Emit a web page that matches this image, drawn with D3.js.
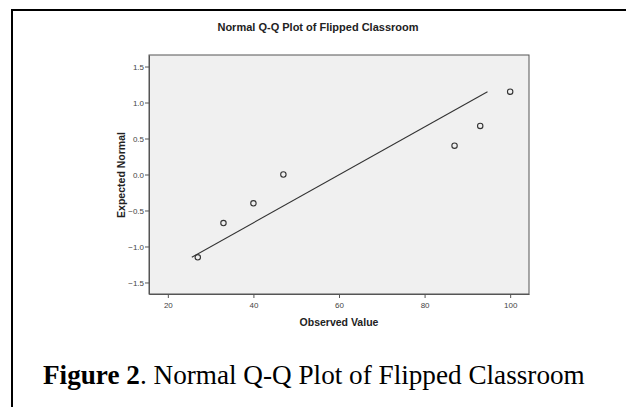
<!DOCTYPE html>
<html>
<head>
<meta charset="utf-8">
<script src="https://cdn.jsdelivr.net/npm/d3@7"></script>
<style>
  body { margin: 0; background: #fff; }
  svg { display: block; }
</style>
</head>
<body>
<div id="chart"></div>
<script>
// data
var observed = [27, 33, 40, 47, 87, 93, 100];
var expected = [-1.15, -0.675, -0.40, 0.0, 0.40, 0.675, 1.15];
var lineX = [25.6, 94.7];
var lineY = [-1.15, 1.15];
var xTicks = [20, 40, 60, 80, 100];
var yTicks = [-1.5, -1.0, -0.5, 0.0, 0.5, 1.0, 1.5];

var width = 626, height = 407;
var plot = { left: 149, top: 55, right: 529, bottom: 294 };

var svg = d3.select("#chart").append("svg")
  .attr("width", width)
  .attr("height", height);

// frame lines (top + left only)
svg.append("line")
  .attr("x1", 11).attr("x2", width).attr("y1", 10).attr("y2", 10)
  .attr("stroke", "#000").attr("stroke-width", 2);
svg.append("line")
  .attr("x1", 12).attr("x2", 12).attr("y1", 9).attr("y2", height)
  .attr("stroke", "#000").attr("stroke-width", 2);

svg.append("text")
  .attr("x", 318).attr("y", 31)
  .attr("text-anchor", "middle")
  .style("font-family", "Liberation Sans, Arial, sans-serif")
  .style("font-size", "11px")
  .style("font-weight", "bold")
  .style("fill", "#222")
  .text("Normal Q-Q Plot of Flipped Classroom");

var x = d3.scaleLinear().domain([15.6, 104.4]).range([plot.left, plot.right]);
var y = d3.scaleLinear().domain([-1.66, 1.66]).range([plot.bottom, plot.top]);

svg.append("rect")
  .attr("x", plot.left).attr("y", plot.top)
  .attr("width", plot.right - plot.left)
  .attr("height", plot.bottom - plot.top)
  .attr("fill", "#f0f0f0")
  .attr("stroke", "#555")
  .attr("stroke-width", 1);

var xAxis = d3.axisBottom(x).tickValues(xTicks).tickSize(4).tickSizeOuter(0)
  .tickFormat(d3.format("d"));
var gx = svg.append("g")
  .attr("transform", "translate(0," + plot.bottom + ")")
  .call(xAxis);

var yAxis = d3.axisLeft(y).tickValues(yTicks).tickSize(4).tickSizeOuter(0)
  .tickFormat(d3.format(".1f"));
var gy = svg.append("g")
  .attr("transform", "translate(" + plot.left + ",0)")
  .call(yAxis);

[gx, gy].forEach(function(g) {
  g.select(".domain").attr("stroke", "#555");
  g.selectAll(".tick line").attr("stroke", "#555");
  g.selectAll(".tick text")
    .style("font-family", "Liberation Sans, Arial, sans-serif")
    .style("font-size", "8px")
    .style("fill", "#444");
});
gx.selectAll(".tick text").attr("dy", "0.9em");
gy.selectAll(".tick text").attr("x", -5);

svg.append("text")
  .attr("x", 339).attr("y", 326)
  .attr("text-anchor", "middle")
  .style("font-family", "Liberation Sans, Arial, sans-serif")
  .style("font-size", "10.5px")
  .style("font-weight", "bold")
  .style("fill", "#222")
  .text("Observed Value");

svg.append("text")
  .attr("transform", "translate(125,175) rotate(-90)")
  .attr("text-anchor", "middle")
  .style("font-family", "Liberation Sans, Arial, sans-serif")
  .style("font-size", "10.5px")
  .style("font-weight", "bold")
  .style("fill", "#222")
  .text("Expected Normal");

// reference line
var line = d3.line()
  .x(function(d) { return x(d[0]); })
  .y(function(d) { return y(d[1]); });
svg.append("path")
  .attr("d", line(d3.zip(lineX, lineY)))
  .attr("fill", "none")
  .attr("stroke", "#333")
  .attr("stroke-width", 1.1);

// points
svg.selectAll(".pt")
  .data(d3.zip(observed, expected))
  .enter().append("circle")
  .attr("class", "pt")
  .attr("cx", function(d) { return x(d[0]); })
  .attr("cy", function(d) { return y(d[1]); })
  .attr("r", 2.7)
  .attr("fill", "none")
  .attr("stroke", "#333")
  .attr("stroke-width", 1.1);

// caption
var cap = svg.append("text")
  .attr("x", 43).attr("y", 384)
  .style("font-family", "Liberation Serif, Times New Roman, serif")
  .style("font-size", "27.2px")
  .style("fill", "#000");
cap.append("tspan").style("font-weight", "bold").text("Figure 2");
cap.append("tspan").text(". Normal Q-Q Plot of Flipped Classroom");
</script>
</body>
</html>
